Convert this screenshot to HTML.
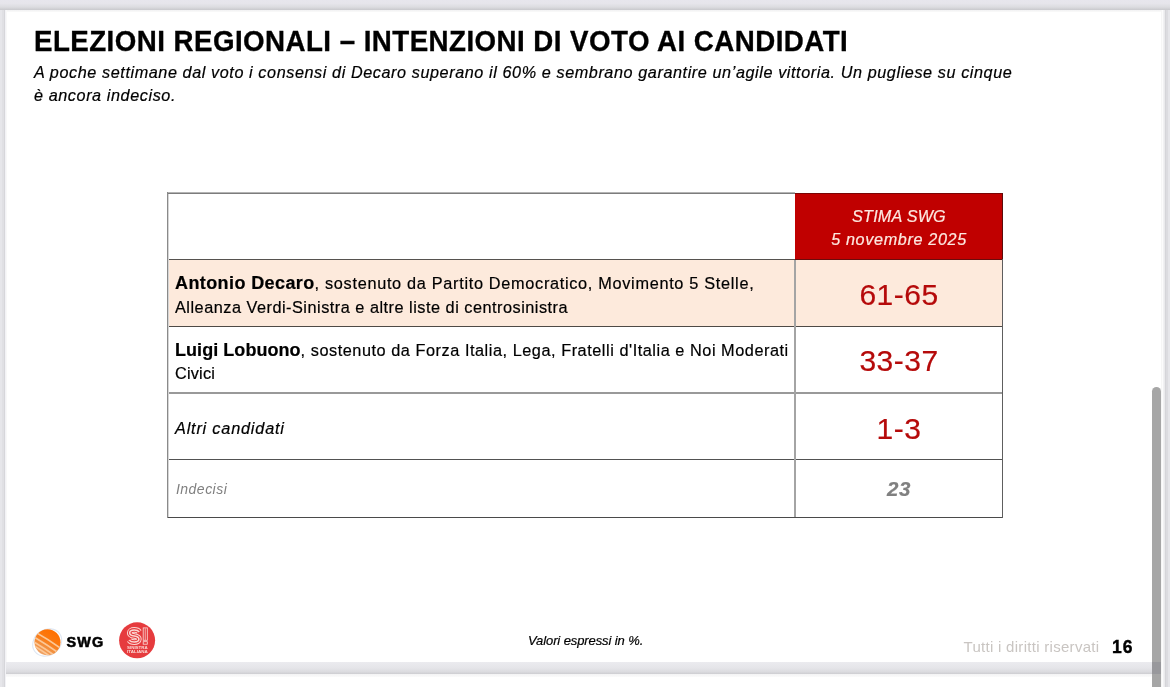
<!DOCTYPE html>
<html><head><meta charset="utf-8">
<style>
*{margin:0;padding:0;box-sizing:border-box}
html,body{width:1170px;height:687px;overflow:hidden;background:#e4e4ea;font-family:"Liberation Sans",sans-serif;color:#000}
#wrap{position:absolute;left:0;top:0;width:1170px;height:687px;will-change:transform}
.abs{position:absolute;white-space:nowrap;line-height:1;-webkit-text-stroke:0.2px currentColor}
#topbar{position:absolute;left:0;top:0;width:1170px;height:10px;background:linear-gradient(#e7e6ed,#e6e5eb 35%,#dcdce0 70%,#c9c9cd)}
#toplt{position:absolute;left:6px;top:10px;width:1156px;height:2px;background:linear-gradient(#f1f1f3,#fafafa)}
#lsh{position:absolute;left:4px;top:10px;width:1px;height:677px;background:#d6d6da}
#lsh2{position:absolute;left:5px;top:10px;width:1px;height:677px;background:#f2f2f6}
#lsh3{position:absolute;left:6px;top:10px;width:1px;height:652px;background:#f8f8f8}
#lbg{position:absolute;left:0;top:10px;width:4px;height:677px;background:linear-gradient(90deg,#e6e6ea 0 2px,#e0e0e4 2px 4px)}
#slide{position:absolute;left:6px;top:10px;width:1156px;height:652px;background:#fff}
#band{position:absolute;left:0;top:662px;width:1165px;height:12px;background:linear-gradient(#ebebef,#e5e5e9 50%,#dcdce0 80%,#cdcdd1)}
#bandlt{position:absolute;left:6px;top:674px;width:1156px;height:3px;background:linear-gradient(#f3f3f4,#fbfbfb)}
#next{position:absolute;left:6px;top:674px;width:1156px;height:13px;background:#fff}
#rgut{position:absolute;left:1161px;top:10px;width:4px;height:677px;background:linear-gradient(90deg,#f6f6f6 0 1px,#fcfcfc 1px 2px,#f1f1f3 2px 3px,#ebebed 3px 4px)}
#rgrey{position:absolute;left:1165px;top:10px;width:5px;height:677px;background:linear-gradient(90deg,#d5d5d9 0 1px,#dcdce0 1px 3px,#e6e6ea 3px 5px)}
#thumb{position:absolute;left:1152px;top:387px;width:9px;height:300px;background:#a6a6a6;border-radius:4.5px 4.5px 0 0}
#thumb2{position:absolute;left:1152px;top:662px;width:9px;height:12px;background:#98989c}
.cell{position:absolute}
.hl{position:absolute;height:1px;background:#505050}
.vl{position:absolute;width:1px;background:#5a5a5a}
.red{color:#b50a0a}
</style></head><body>
<div id="wrap">
<div id="topbar"></div>
<div id="slide"></div>
<div id="band"></div>
<div id="next"></div>
<div id="toplt"></div>
<div id="bandlt"></div>
<div id="lbg"></div>
<div id="lsh"></div>
<div id="lsh2"></div>
<div id="lsh3"></div>
<div id="rgut"></div>
<div id="rgrey"></div>

<!-- title -->
<div id="t_title" class="abs" style="left:34.3px;top:25.6px;font-size:30.3px;font-weight:bold;letter-spacing:0.5px;-webkit-text-stroke:0.35px #000;transform:scaleX(0.9142);transform-origin:0 0">ELEZIONI REGIONALI – INTENZIONI DI VOTO AI CANDIDATI</div>
<div id="t_sub1" class="abs" style="left:34px;top:64.1px;font-size:16.2px;font-style:italic;letter-spacing:0.59px">A poche settimane dal voto i consensi di Decaro superano il 60% e sembrano garantire un’agile vittoria. Un pugliese su cinque</div>
<div id="t_sub2" class="abs" style="left:34px;top:86.6px;font-size:16.2px;font-style:italic;letter-spacing:0.59px">è ancora indeciso.</div>

<!-- table backgrounds -->
<div class="cell" style="left:795px;top:193px;width:208px;height:66px;background:#c00000"></div>
<div class="cell" style="left:168px;top:260px;width:834px;height:66px;background:#fdeadc"></div>

<!-- table lines -->
<div class="hl" style="left:167px;top:192px;width:628px;background:#b4b4b4"></div>
<div class="hl" style="left:167px;top:193px;width:628px;background:#7c7c7c"></div>
<div class="hl" style="left:795px;top:193px;width:208px;background:#7a0404"></div>
<div class="hl" style="left:167px;top:259px;width:628px;background:#56524f"></div>
<div class="hl" style="left:795px;top:259px;width:208px;background:#6a0c0c"></div>
<div class="hl" style="left:167px;top:326px;width:836px;background:#4e4a46"></div>
<div class="hl" style="left:167px;top:392px;width:836px;height:2px;background:#999"></div>
<div class="hl" style="left:167px;top:459px;width:836px;background:#525252"></div>
<div class="hl" style="left:167px;top:517px;width:836px;background:#4a4a4a"></div>
<div class="vl" style="left:167px;top:192px;height:326px;background:#8a8a8a"></div>
<div class="vl" style="left:168px;top:194px;height:323px;background:#d6d6d6"></div>
<div class="vl" style="left:794px;top:260px;height:257px;width:2px;background:#a4a4a4"></div>
<div class="vl" style="left:1002px;top:193px;height:66px;background:#5a0c0c"></div>
<div class="vl" style="left:1002px;top:259px;height:259px;background:#5e5e5e"></div>

<!-- header -->
<div class="abs" style="left:795px;width:208px;text-align:center;top:208.2px;font-size:16.2px;font-style:italic;color:#fde8e0;letter-spacing:0.2px"><span id="h1">STIMA SWG</span></div>
<div class="abs" style="left:795px;width:208px;text-align:center;top:231.2px;font-size:16.2px;font-style:italic;color:#fde8e0;letter-spacing:0.65px"><span id="h2">5 novembre 2025</span></div>

<!-- rows -->
<div id="r1a" class="abs" style="left:175px;top:273.8px;font-size:16.3px;letter-spacing:0.69px"><b id="r1b" style="font-size:18px;letter-spacing:0.4px">Antonio Decaro</b>, sostenuto da Partito Democratico, Movimento 5 Stelle,</div>
<div id="r1c" class="abs" style="left:175px;top:299.2px;font-size:16.3px;letter-spacing:0.5px">Alleanza Verdi-Sinistra e altre liste di centrosinistra</div>
<div id="r2a" class="abs" style="left:175px;top:341.4px;font-size:16.3px;letter-spacing:0.54px"><b id="r2b" style="font-size:18px;letter-spacing:0.05px">Luigi Lobuono</b>, sostenuto da Forza Italia, Lega, Fratelli d'Italia e Noi Moderati</div>
<div id="r2c" class="abs" style="left:175px;top:365.4px;font-size:16.3px;letter-spacing:0.2px">Civici</div>
<div id="r3" class="abs" style="left:175px;top:419.8px;font-size:16.3px;font-style:italic;letter-spacing:0.8px">Altri candidati</div>
<div id="r4" class="abs" style="left:176px;top:482px;font-size:14px;font-style:italic;color:#7f7f7f;letter-spacing:0.47px;-webkit-text-stroke:0">Indecisi</div>

<div class="abs red" style="left:795px;width:208px;text-align:center;top:279.8px;font-size:30px;letter-spacing:0.5px"><span id="v1">61-65</span></div>
<div class="abs red" style="left:795px;width:208px;text-align:center;top:346.1px;font-size:30px;letter-spacing:0.5px"><span id="v2">33-37</span></div>
<div class="abs red" style="left:795px;width:208px;text-align:center;top:413.6px;font-size:30px;letter-spacing:0.5px"><span id="v3">1-3</span></div>
<div class="abs" style="left:795px;width:208px;text-align:center;top:479.2px;font-size:20.5px;letter-spacing:0.5px;font-weight:bold;font-style:italic;color:#808080"><span id="v4">23</span></div>

<!-- footer -->
<div id="f1" class="abs" style="left:528px;top:634.4px;font-size:13px;font-style:italic;letter-spacing:-0.1px">Valori espressi in %.</div>
<div id="f2" class="abs" style="left:963.5px;top:639.4px;font-size:15px;color:#c9c5c2;letter-spacing:0.29px;-webkit-text-stroke:0">Tutti i diritti riservati</div>
<div id="f3" class="abs" style="left:1112px;top:638.7px;font-size:17.5px;font-weight:bold;letter-spacing:0.9px;-webkit-text-stroke:0.4px #000">16</div>

<!-- logos -->
<svg id="logo" style="position:absolute;left:25px;top:618px" width="140" height="44" viewBox="25 618 140 44">
  <defs>
    <linearGradient id="og" x1="0.75" y1="0.1" x2="0.25" y2="0.95">
      <stop offset="0" stop-color="#ff7000"/>
      <stop offset="0.4" stop-color="#fa7a12"/>
      <stop offset="0.7" stop-color="#f29040"/>
      <stop offset="1" stop-color="#eea469"/>
    </linearGradient>
    <clipPath id="sc"><circle cx="47.5" cy="642.2" r="13"/></clipPath>
  </defs>
  <ellipse cx="47.2" cy="642.5" rx="15.3" ry="12.8" fill="none" stroke="#c8d6ea" stroke-width="1.1" opacity="0.6" transform="rotate(-35 47.2 642.5)"/>
  <circle cx="47.5" cy="642.2" r="13" fill="url(#og)"/>
  <g clip-path="url(#sc)" stroke="#fcc795" stroke-width="1.7" fill="none" transform="rotate(33 47.5 642.2)">
    <path d="M30,640.4 Q47.5,639.2 66,640.4"/>
    <path d="M30,645.3 Q47.5,644.3 66,645.3"/>
    <path d="M30,649.6 Q47.5,648.8 66,649.6"/>
    <path d="M30,652.8 Q47.5,652.2 66,652.8"/>
  </g>
  <text x="66.5" y="647.3" font-family="Liberation Sans" font-weight="bold" font-size="14.4" letter-spacing="1.2" stroke="#000" stroke-width="0.55">SWG</text>
  <circle cx="137.1" cy="640.3" r="18" fill="#e63b3e"/>
  <g fill="none" stroke-linecap="butt">
    <path d="M139.2,631.9 C138.2,630.4 136.6,629.9 134.3,629.9 C131.5,629.9 129.7,631.1 129.7,632.9 C129.7,634.9 131.7,635.6 134.3,636 C137,636.4 138.9,637.1 138.9,639.1 C138.9,641 137,642.1 134.3,642.1 C132,642.1 130.3,641.5 129.3,640.1" stroke="#fbd8d3" stroke-width="5.6"/>
    <path d="M139.2,631.9 C138.2,630.4 136.6,629.9 134.3,629.9 C131.5,629.9 129.7,631.1 129.7,632.9 C129.7,634.9 131.7,635.6 134.3,636 C137,636.4 138.9,637.1 138.9,639.1 C138.9,641 137,642.1 134.3,642.1 C132,642.1 130.3,641.5 129.3,640.1" stroke="#e63b3e" stroke-width="3.6"/>
    <path d="M139.2,631.9 C138.2,630.4 136.6,629.9 134.3,629.9 C131.5,629.9 129.7,631.1 129.7,632.9 C129.7,634.9 131.7,635.6 134.3,636 C137,636.4 138.9,637.1 138.9,639.1 C138.9,641 137,642.1 134.3,642.1 C132,642.1 130.3,641.5 129.3,640.1" stroke="#fbd8d3" stroke-width="1.5"/>
    <rect x="143.2" y="627.9" width="4.1" height="12.4" stroke="#fbe0dc" stroke-width="0.8"/>
    <line x1="145.25" y1="628.3" x2="145.25" y2="640" stroke="#fbe0dc" stroke-width="0.7"/>
    <rect x="143.2" y="641.7" width="4.1" height="2.5" stroke="#fbe0dc" stroke-width="0.8"/>
  </g>
  <text x="127" y="649.3" textLength="20.7" lengthAdjust="spacingAndGlyphs" font-family="Liberation Sans" font-weight="bold" font-size="3.4" fill="#fbd8d4">SINISTRA</text>
  <text x="127" y="653.2" textLength="20.7" lengthAdjust="spacingAndGlyphs" font-family="Liberation Sans" font-weight="bold" font-size="3.4" fill="#fbd8d4">ITALIANA</text>
</svg>

<div id="thumb"></div>
<div id="thumb2"></div>
</div>
</body></html>
